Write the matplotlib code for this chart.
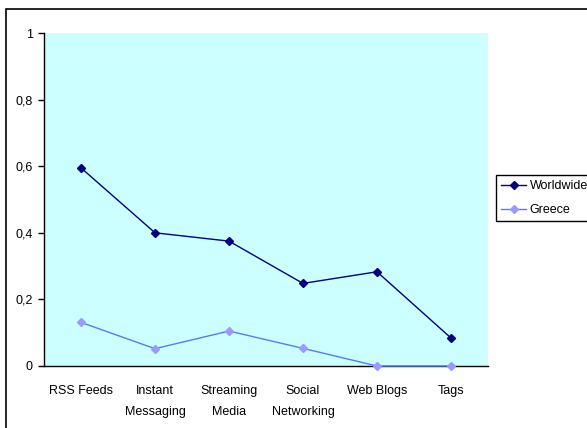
import matplotlib

matplotlib.use("Agg")
import matplotlib.pyplot as plt
from matplotlib.patches import Rectangle

categories = ["RSS Feeds", "Instant\nMessaging", "Streaming\nMedia", "Social\nNetworking", "Web Blogs", "Tags"]
worldwide = [0.595, 0.40, 0.375, 0.248, 0.283, 0.084]
greece = [0.131, 0.052, 0.105, 0.053, 0.0, 0.0]
y_ticks = [0, 0.2, 0.4, 0.6, 0.8, 1]
y_labels = ["0", "0,2", "0,4", "0,6", "0,8", "1"]

plt.rcParams["font.family"] = ["Liberation Sans", "DejaVu Sans"]
plt.rcParams["font.size"] = 9

fig = plt.figure(figsize=(5.87, 4.28), dpi=100)
ax = fig.add_axes([44 / 587, 1 - 366 / 428, 444 / 587, 333 / 428])
ax.set_facecolor("#CCFFFF")

x = list(range(len(categories)))
ax.plot(x, worldwide, color="#000080", lw=1, marker="D", ms=4.5, mfc="#000080", mec="#000080",
        label="Worldwide", clip_on=False, zorder=3)
ax.plot(x, greece, color="#5A78FF", lw=1, marker="D", ms=4.5, mfc="#9999FF", mec="#9999FF",
        label="Greece", clip_on=False, zorder=3)

ax.set_xlim(-0.5, len(categories) - 0.5)
ax.set_ylim(0, 1)
ax.set_xticks(x)
ax.set_xticklabels(categories, linespacing=1.9)
ax.set_yticks(y_ticks)
ax.set_yticklabels(y_labels)
ax.tick_params(axis="x", length=0, pad=14)
ax.tick_params(axis="y", length=4, width=1, direction="out", pad=4)

for side in ("top", "right"):
    ax.spines[side].set_visible(False)
for side in ("left", "bottom"):
    ax.spines[side].set_linewidth(1)
    ax.spines[side].set_color("black")

leg = fig.legend(loc="upper left", bbox_to_anchor=(496 / 587, 1 - 175 / 428), borderaxespad=0,
                 frameon=True, fancybox=False, edgecolor="black", framealpha=1, borderpad=0.4,
                 handlelength=2.0, handletextpad=0.3, labelspacing=0.95)
leg.get_frame().set_linewidth(1)

fig.patches.append(Rectangle((6 / 587, -0.05), 1.0, 1 - 9 / 428 + 0.05, transform=fig.transFigure,
                             fill=False, edgecolor="black", lw=1.2))

fig.savefig("out.png", dpi=100)
